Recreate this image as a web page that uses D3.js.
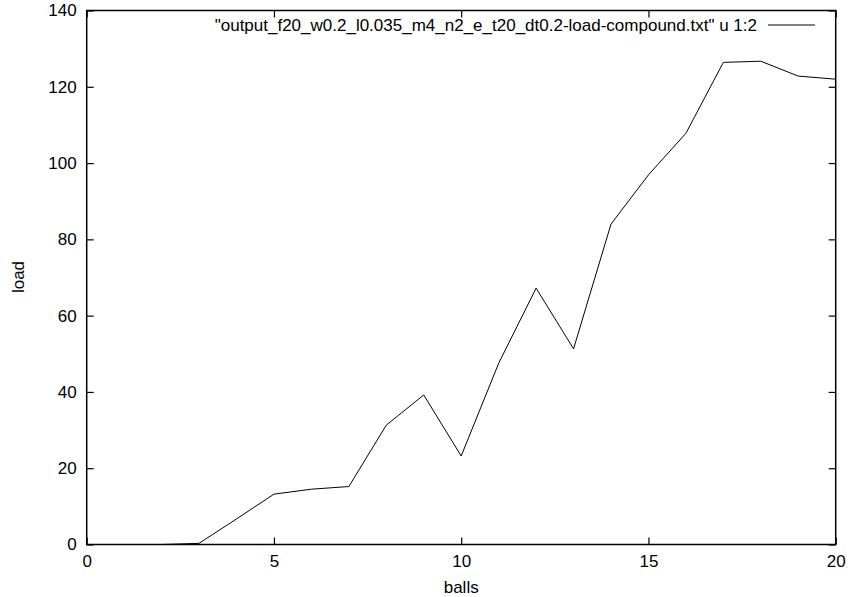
<!DOCTYPE html>
<html>
<head>
<meta charset="utf-8">
<script src="https://cdn.jsdelivr.net/npm/d3@7"></script>
<style>
  body { margin: 0; background: #fff; }
  svg text { font-family: "Liberation Sans", Arial, sans-serif; font-size: 17px; fill: #000; }
</style>
</head>
<body>
<div id="chart"></div>
<script>
// data
const balls = [0, 1, 2, 3, 4, 5, 6, 7, 8, 9, 10, 11, 12, 13, 14, 15, 16, 17, 18, 19, 20];
const load = [0, 0, 0, 0.3, 6.7, 13.2, 14.5, 15.2, 31.3, 39.2, 23.2, 47.5, 67.2, 51.3, 84.0, 96.9, 107.8, 126.4, 126.7, 122.8, 122.0];
const xTicks = [0, 5, 10, 15, 20];
const yTicks = [0, 20, 40, 60, 80, 100, 120, 140];
const legendLabel = '"output_f20_w0.2_l0.035_m4_n2_e_t20_dt0.2-load-compound.txt" u 1:2';

const W = 851, H = 597;
const margin = { top: 10.5, right: 15.3, bottom: 52.5, left: 86.7 };
const width = W - margin.left - margin.right;
const height = H - margin.top - margin.bottom;

const svg = d3.select('#chart')
  .append('svg')
  .attr('width', W)
  .attr('height', H)
  .append('g')
  .attr('transform', `translate(${margin.left},${margin.top})`);

const x = d3.scaleLinear().domain([0, 20]).range([0, width]);
const y = d3.scaleLinear().domain([0, 140]).range([height, 0]);

const tick = 7;

// gnuplot style ticks: inward, mirrored on all sides
svg.append('g')
  .attr('transform', `translate(0,${height})`)
  .call(d3.axisBottom(x).tickValues(xTicks).tickSizeInner(-tick).tickSizeOuter(0).tickPadding(10))
  .call(g => g.select('.domain').remove());

svg.append('g')
  .call(d3.axisTop(x).tickValues(xTicks).tickSizeInner(-tick).tickSizeOuter(0).tickFormat(''))
  .call(g => g.select('.domain').remove());

svg.append('g')
  .call(d3.axisLeft(y).tickValues(yTicks).tickSizeInner(-tick).tickSizeOuter(0).tickPadding(10))
  .call(g => g.select('.domain').remove());

svg.append('g')
  .attr('transform', `translate(${width},0)`)
  .call(d3.axisRight(y).tickValues(yTicks).tickSizeInner(-tick).tickSizeOuter(0).tickFormat(''))
  .call(g => g.select('.domain').remove());

svg.selectAll('.tick line').attr('stroke', '#000').attr('stroke-width', 1.2);
svg.selectAll('.tick text').style('font-size', '17px').attr('fill', '#000');

// border
svg.append('rect')
  .attr('width', width)
  .attr('height', height)
  .attr('fill', 'none')
  .attr('stroke', '#000')
  .attr('stroke-width', 1.5);

// line
const line = d3.line()
  .x((d, i) => x(balls[i]))
  .y(d => y(d));

svg.append('path')
  .datum(load)
  .attr('fill', 'none')
  .attr('stroke', '#000')
  .attr('stroke-width', 1)
  .attr('d', line);

// legend
svg.append('text')
  .attr('x', 757 - margin.left)
  .attr('y', 25 - margin.top)
  .attr('dy', '0.35em')
  .attr('text-anchor', 'end')
  .text(legendLabel);

svg.append('line')
  .attr('x1', 768 - margin.left)
  .attr('x2', 815 - margin.left)
  .attr('y1', 25 - margin.top)
  .attr('y2', 25 - margin.top)
  .attr('stroke', '#000')
  .attr('stroke-width', 1);

// axis labels
svg.append('text')
  .attr('x', width / 2)
  .attr('y', height + 43)
  .attr('dy', '0.35em')
  .attr('text-anchor', 'middle')
  .text('balls');

svg.append('text')
  .attr('transform', 'rotate(-90)')
  .attr('x', -(277 - margin.top))
  .attr('y', 18 - margin.left)
  .attr('dy', '0.35em')
  .attr('text-anchor', 'middle')
  .text('load');
</script>
</body>
</html>
